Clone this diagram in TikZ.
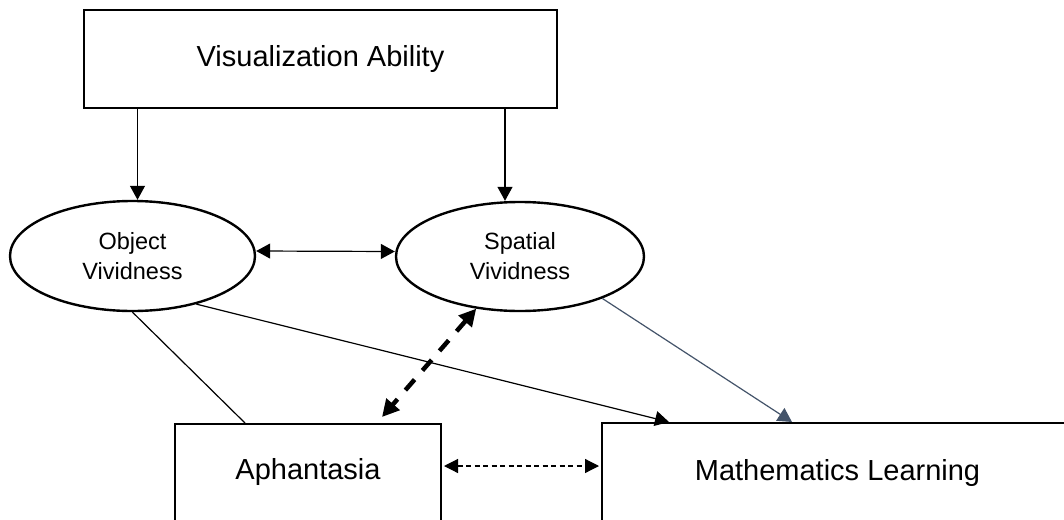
\documentclass[tikz,border=0pt]{standalone}
\usepackage{fontspec}
\setmainfont{Liberation Sans}
\usetikzlibrary{shapes.geometric,arrows.meta,calc}
\definecolor{slate}{RGB}{68,84,106}
\begin{document}
\begin{tikzpicture}[x=1pt,y=-1pt,
  bigtxt/.style={font=\fontsize{29}{34}\selectfont},
  smalltxt/.style={font=\fontsize{23.5}{30}\selectfont},
  boxnode/.style={draw,line width=2pt,rectangle,inner sep=0pt},
  ellnode/.style={draw,line width=2.4pt,ellipse,inner sep=0pt,align=center,smalltxt},
  tip/.style={},
  thinarr/.style={line width=1.2pt,-{Triangle[length=14pt,width=15pt]}},
  thinboth/.style={line width=1.2pt,{Triangle[length=14pt,width=15pt]}-{Triangle[length=14pt,width=15pt]}},
  slatearr/.style={line width=1.2pt,draw=slate,-{Triangle[length=14pt,width=15pt,fill=slate]}},
  thickdash/.style={line width=4.5pt,dash pattern=on 14pt off 12pt,{Triangle[length=17pt,width=17pt]}-{Triangle[length=17pt,width=17pt]}},
  thindash/.style={line width=1.2pt,dash pattern=on 5pt off 3.5pt,{Triangle[length=14pt,width=14pt]}-{Triangle[length=14pt,width=14pt]}}
]
\useasboundingbox (0,0) rectangle (1064,519);
\fill[white] (0,0) rectangle (1064,519);
\clip (0,0) rectangle (1064,519);

\node[boxnode,bigtxt,minimum width=473pt,minimum height=98pt] (VA) at (320.5,59) {Visualization Ability};
\node[ellnode,minimum width=245pt,minimum height=110pt] (Obj) at (132.5,256) {Object\\Vividness};
\node[ellnode,minimum width=248pt,minimum height=109pt] (Spa) at (520,256.5) {Spatial\\Vividness};
\node[boxnode,bigtxt,anchor=north,minimum width=266pt,text height=55pt,text depth=70pt] (Aph) at (308,423) {Aphantasia};
\node[boxnode,bigtxt,anchor=north,minimum width=471pt,text height=57pt,text depth=70pt] (Math) at (837.5,422) {Mathematics Learning};

\draw[thinarr] ($(Obj.north |- VA.south)+(5,0)$) -- ($(Obj.north)+(5,0)$);
\draw[thinarr] ($(Spa.north |- VA.south)+(-15,0)$) -- ($(Spa.north)+(-15,0)$);
\draw[thinboth] ($(Obj.east)+(0,-5)$) -- ($(Spa.west)+(0,-5)$);
\draw[line width=1.2pt] (Obj.south) -- ($(Aph.north west)+(71,0)$);
\draw[thinarr] (Obj.-37) -- ($(Math.north west)+(68,0)$);
\draw[slatearr] (Spa.-27) -- ($(Math.north west)+(191,0)$);
\draw[thickdash] (Spa.-130) -- ($(Aph.north west)+(208,-6)$);
\draw[thindash] ($(Aph.north east)+(2,43)$) -- ($(Math.north west)+(-2,44)$);
\end{tikzpicture}
\end{document}
